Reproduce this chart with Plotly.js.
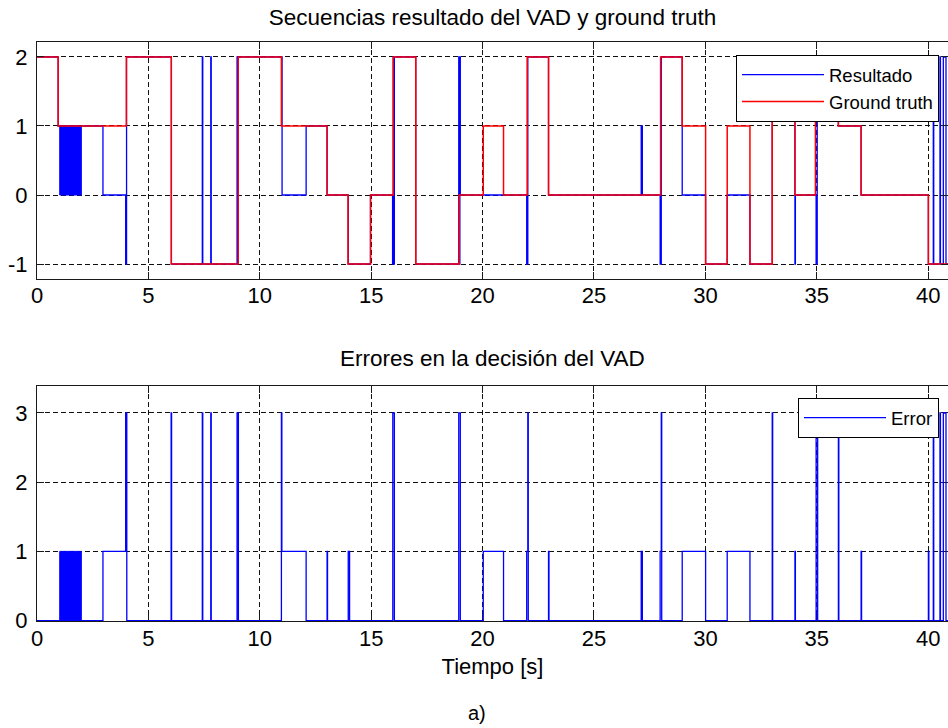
<!DOCTYPE html>
<html>
<head>
<meta charset="utf-8">
<script src="https://cdn.plot.ly/plotly-3.0.1.min.js"></script>
<style>
  html, body { margin: 0; padding: 0; background: #fff; overflow: hidden; }
  #chart { width: 948px; height: 728px; }
</style>
</head>
<body>
<div id="chart"></div>
<script>
// Ground truth label sequence (step changes: time in s, class value)
const tGT = [0, 0.95, 4.01, 6.03, 9.03, 10.97, 13.02, 13.96, 14.97, 15.99, 17.0, 18.95, 20.03, 20.94, 22.0, 22.96, 27.99, 28.96, 30.01, 30.98, 32.0, 33.0, 34.02, 34.94, 35.97, 36.99, 40.01, 40.89];
const vGT = [2, 1, 2, -1, 2, 1, 0, -1, 0, 2, -1, 0, 1, 0, 2, 0, 2, 1, -1, 1, -1, 2, 0, 2, 1, 0, -1, -1];

// VAD output sequence (step changes)
const tRes = [0, 0.95, 2.96, 3.98, 4.02, 6.03, 7.42, 7.44, 7.80, 7.82, 8.98, 9.00, 9.03, 11.0, 12.08, 13.02, 13.97, 14.97, 15.96, 15.99, 16.01, 16.04, 17.0, 18.93, 18.96, 18.98, 19.0, 21.98, 22.03, 22.96, 27.12, 27.17, 27.97, 28.02, 28.96, 30.01, 30.98, 32.0, 33.0, 34.02, 34.04, 34.97, 35.02, 35.97, 36.99, 40.01, 40.23, 40.25, 40.53, 40.55, 40.68, 40.8, 40.89];
const vRes = [2, 1, 0, -1, 2, -1, 2, -1, 2, -1, 2, -1, 2, 0, 1, 0, -1, 0, -1, 2, -1, 2, -1, 2, -1, 2, 0, -1, 2, 0, 1, 0, -1, 2, 0, -1, 0, -1, 2, -1, 0, -1, 2, 1, 0, -1, 2, -1, 2, -1, 2, -1, -1];

// Rapid 0/1 toggling of the VAD output (dense band)
const burstStart = [1.02];
const burstEnd = [1.99];
const burstLow = [0];
const burstHigh = [1];

// Decision error sequence (step changes)
const tErr = [0, 2.96, 3.98, 4.03, 6.02, 6.04, 7.42, 7.44, 7.80, 7.82, 8.98, 9.04, 10.97, 10.99, 12.08, 13.02, 13.04, 13.97, 14.03, 15.97, 16.04, 18.93, 19.0, 20.03, 20.94, 21.98, 22.03, 22.05, 22.96, 22.98, 27.12, 27.17, 27.97, 28.02, 28.04, 28.96, 30.01, 30.98, 32.0, 33.0, 33.02, 34.02, 34.04, 34.97, 35.04, 35.97, 35.99, 36.99, 37.01, 40.01, 40.03, 40.23, 40.25, 40.53, 40.55, 40.68, 40.8, 40.89];
const vErr = [0, 1, 3, 0, 3, 0, 3, 0, 3, 0, 3, 0, 3, 1, 0, 1, 0, 1, 0, 3, 0, 3, 0, 1, 0, 1, 3, 0, 1, 0, 1, 0, 1, 3, 0, 1, 0, 1, 0, 3, 0, 1, 0, 3, 0, 3, 0, 1, 0, 1, 0, 3, 0, 3, 0, 3, 0, 0];

// Error band during the same toggling interval
const errBurstLow = [0];
const errBurstHigh = [1];

// Axis ticks
const xTicks = [0, 5, 10, 15, 20, 25, 30, 35, 40];
const yTicksTop = [-1, 0, 1, 2];
const yTickTextTop = ['-1', '0', '1', '2'];
const yTicksBottom = [0, 1, 2, 3];

const BLUE = 'rgb(0,0,255)';
const RED = 'rgb(255,0,0)';
const FONT = 'Liberation Sans, Arial, sans-serif';

function band(x0s, x1s, lows, highs, xa, ya) {
  const xs = [], ys = [];
  for (let i = 0; i < x0s.length; i++) {
    xs.push(x0s[i], x1s[i], x1s[i], x0s[i], x0s[i], null);
    ys.push(lows[i], lows[i], highs[i], highs[i], lows[i], null);
  }
  return {
    x: xs, y: ys, xaxis: xa, yaxis: ya, type: 'scatter', mode: 'lines',
    fill: 'toself', fillcolor: BLUE, line: { color: BLUE, width: 1 },
    showlegend: false, hoverinfo: 'skip'
  };
}

const traces = [
  {
    x: tRes, y: vRes, name: 'Resultado', type: 'scatter', mode: 'lines',
    line: { color: BLUE, width: 1.3, shape: 'hv', simplify: false },
    xaxis: 'x', yaxis: 'y', legend: 'legend'
  },
  band(burstStart, burstEnd, burstLow, burstHigh, 'x', 'y'),
  {
    x: tGT, y: vGT, name: 'Ground truth', type: 'scatter', mode: 'lines',
    line: { color: RED, width: 1.5, shape: 'hv', simplify: false },
    xaxis: 'x', yaxis: 'y', legend: 'legend'
  },
  {
    x: tErr, y: vErr, name: 'Error', type: 'scatter', mode: 'lines',
    line: { color: BLUE, width: 1.3, shape: 'hv', simplify: false },
    xaxis: 'x2', yaxis: 'y2', legend: 'legend2'
  },
  band(burstStart, burstEnd, errBurstLow, errBurstHigh, 'x2', 'y2')
];

const axisCommon = {
  showline: true, mirror: 'ticks', linecolor: '#1a1a1a', linewidth: 1,
  ticks: 'inside', ticklen: 7, tickcolor: '#1a1a1a', tickwidth: 1,
  showgrid: true, gridcolor: '#111', gridwidth: 1, griddash: '5px,3px',
  zeroline: false, tickfont: { family: FONT, size: 22, color: '#000' },
  automargin: false, fixedrange: true
};

const H = 728, L = 37, W = 948 - L;
const py = p => 1 - p / H;

const legendCommon = {
  xanchor: 'right', yanchor: 'top',
  bgcolor: '#fff', bordercolor: '#000', borderwidth: 1,
  font: { family: FONT, size: 18.5, color: '#000' }, itemwidth: 82
};

const layout = {
  width: 948, height: 728,
  margin: { l: L, r: 0, t: 0, b: 0 },
  paper_bgcolor: '#fff', plot_bgcolor: '#fff',
  font: { family: FONT, color: '#000' },
  title: {
    text: 'Secuencias resultado del VAD y ground truth',
    font: { family: FONT, size: 22.5, color: '#000' },
    xref: 'paper', x: 0.5, xanchor: 'center',
    yref: 'container', y: py(17), yanchor: 'middle'
  },
  xaxis: Object.assign({}, axisCommon, {
    domain: [0, 1], range: [0, 40.89], tickvals: xTicks, anchor: 'y',
    ticklabelstandoff: -3
  }),
  yaxis: Object.assign({}, axisCommon, {
    domain: [py(279), py(42)], range: [-1.217, 2.217],
    tickvals: yTicksTop, ticktext: yTickTextTop, anchor: 'x',
    ticklabelstandoff: 4
  }),
  xaxis2: Object.assign({}, axisCommon, {
    domain: [0, 1], range: [0, 40.89], tickvals: xTicks, anchor: 'y2',
    layer: 'below traces', ticklabelstandoff: -2,
    title: { text: 'Tiempo [s]', font: { family: FONT, size: 22, color: '#000' }, standoff: 8 }
  }),
  yaxis2: Object.assign({}, axisCommon, {
    domain: [py(621), py(386)], range: [-0.006, 3.39], tickvals: yTicksBottom, anchor: 'x2',
    layer: 'below traces', ticklabelstandoff: 4
  }),
  legend: Object.assign({}, legendCommon, { x: (939 - L) / W, y: py(55) }),
  legend2: Object.assign({}, legendCommon, { x: (939 - L) / W, y: py(398) }),
  annotations: [
    {
      text: 'Errores en la decisión del VAD', xref: 'paper', yref: 'paper',
      x: 0.5, y: py(358), xanchor: 'center', yanchor: 'middle', showarrow: false,
      font: { family: FONT, size: 22.5, color: '#000' }
    },
    {
      text: 'a)', xref: 'paper', yref: 'paper',
      x: (477 - L) / W, y: py(713), xanchor: 'center', yanchor: 'middle', showarrow: false,
      font: { family: FONT, size: 20, color: '#000' }
    }
  ]
};

Plotly.newPlot('chart', traces, layout, { staticPlot: true, displayModeBar: false });
</script>
</body>
</html>
